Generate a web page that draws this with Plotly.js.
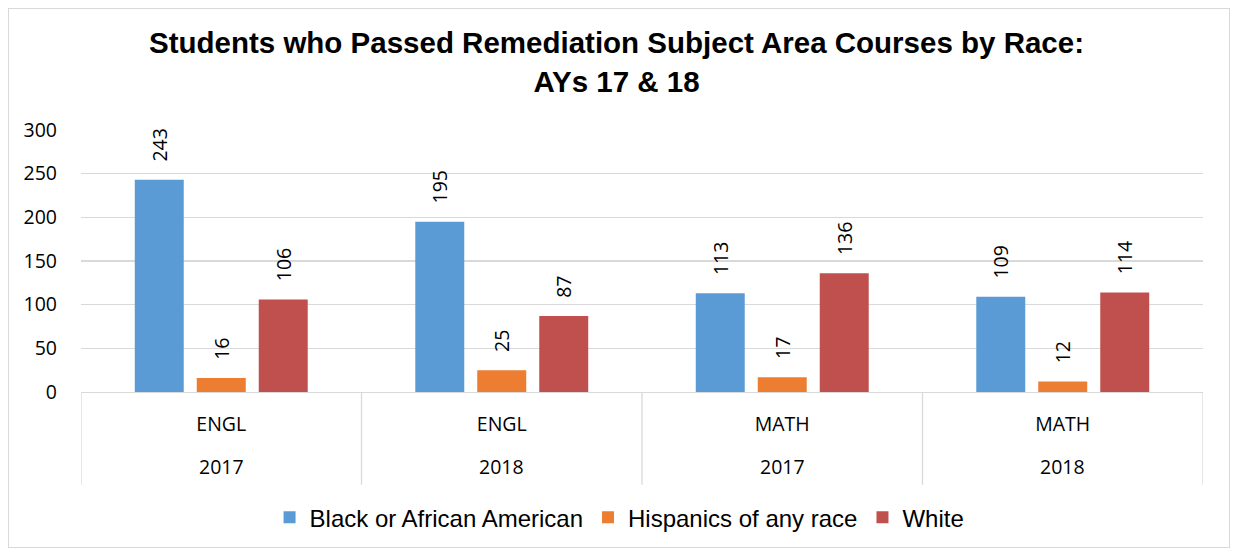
<!DOCTYPE html>
<html>
<head>
<meta charset="utf-8">
<script src="https://cdn.plot.ly/plotly-3.0.1.min.js"></script>
<style>
  html, body { margin: 0; padding: 0; background: #fff; }
  #wrap { position: relative; width: 1233px; height: 555px; }
  #chart { width: 1233px; height: 555px; }
  #frame { position: absolute; left: 8px; top: 8px; width: 1220px; height: 538px; border: 1px solid #D9D9D9; pointer-events: none; }
</style>
</head>
<body>
<div id="wrap"><div id="chart"></div><div id="frame"></div></div>
<script>
// ---- data ----
const categoryKeys = ["ENGL 2017", "ENGL 2018", "MATH 2017", "MATH 2018"];
const subjectLabels = ["ENGL", "ENGL", "MATH", "MATH"];
const yearLabels = ["2017", "2018", "2017", "2018"];
const seriesNames = ["Black or African American", "Hispanics of any race", "White"];
const blackValues = [243, 195, 113, 109];
const hispanicValues = [16, 25, 17, 12];
const whiteValues = [106, 87, 136, 114];
const yTicks = [0, 50, 100, 150, 200, 250, 300];

const colors = ["#5B9BD5", "#ED7D31", "#C0504D"];
const tickFont = { family: "Open Sans, Noto Sans, sans-serif", size: 19.5, color: "#000" };
const pad = "\u00a0\u00a0\u00a0";

const allValues = [blackValues, hispanicValues, whiteValues];
const traces = allValues.map((vals, i) => ({
  type: "bar",
  name: seriesNames[i],
  x: categoryKeys,
  y: vals,
  marker: { color: colors[i] },
  texttemplate: pad + "%{y}",
  textposition: "outside",
  textangle: -90,
  textfont: tickFont,
  cliponaxis: false,
  hoverinfo: "skip"
}));

const shapes = [];
for (let i = 0; i <= categoryKeys.length; i++) {
  shapes.push({
    type: "line", xref: "x", yref: "paper",
    x0: i - 0.5, x1: i - 0.5, y0: 0, y1: -0.354,
    line: { color: "#D9D9D9", width: 1.3 }
  });
}

const annotations = yearLabels.map((t, i) => ({
  xref: "x", yref: "paper", x: categoryKeys[i], y: -0.2857,
  yanchor: "middle", xanchor: "center", showarrow: false,
  text: t, font: tickFont
}));

const layout = {
  width: 1233, height: 555,
  paper_bgcolor: "#fff", plot_bgcolor: "#fff",
  margin: { l: 81, r: 30, t: 129.5, b: 163 },
  title: {
    text: "Students who Passed Remediation Subject Area Courses by Race:<br>AYs 17 & 18",
    font: { family: "Liberation Sans, Arial, sans-serif", size: 29.5, color: "#000", weight: "bold" },
    x: 0.5, xref: "container", xanchor: "center",
    y: 0.904, yref: "container", yanchor: "top"
  },
  barmode: "group",
  bargap: 0.337,
  bargroupgap: 0.21,
  xaxis: {
    type: "category",
    tickvals: categoryKeys,
    ticktext: subjectLabels,
    tickfont: tickFont,
    ticks: "",
    ticklabelstandoff: 14,
    showgrid: false,
    showline: true, linecolor: "#D9D9D9", linewidth: 1.3,
    zeroline: false,
    range: [-0.5, 3.5],
    fixedrange: true
  },
  yaxis: {
    range: [0, 300],
    tickvals: yTicks,
    tickfont: tickFont,
    ticks: "",
    ticklabelstandoff: 23,
    showgrid: true, gridcolor: "#D9D9D9", gridwidth: 1.3,
    zeroline: false, showline: false,
    fixedrange: true
  },
  showlegend: true,
  legend: {
    orientation: "h",
    x: 0.48, xanchor: "center",
    y: -0.48, yanchor: "middle",
    font: { family: "Liberation Sans, Arial, sans-serif", size: 24, color: "#000" },
    itemwidth: 30,
    traceorder: "normal"
  },
  shapes: shapes,
  annotations: annotations
};

Plotly.newPlot("chart", traces, layout, { displayModeBar: false, staticPlot: true });
</script>
</body>
</html>
